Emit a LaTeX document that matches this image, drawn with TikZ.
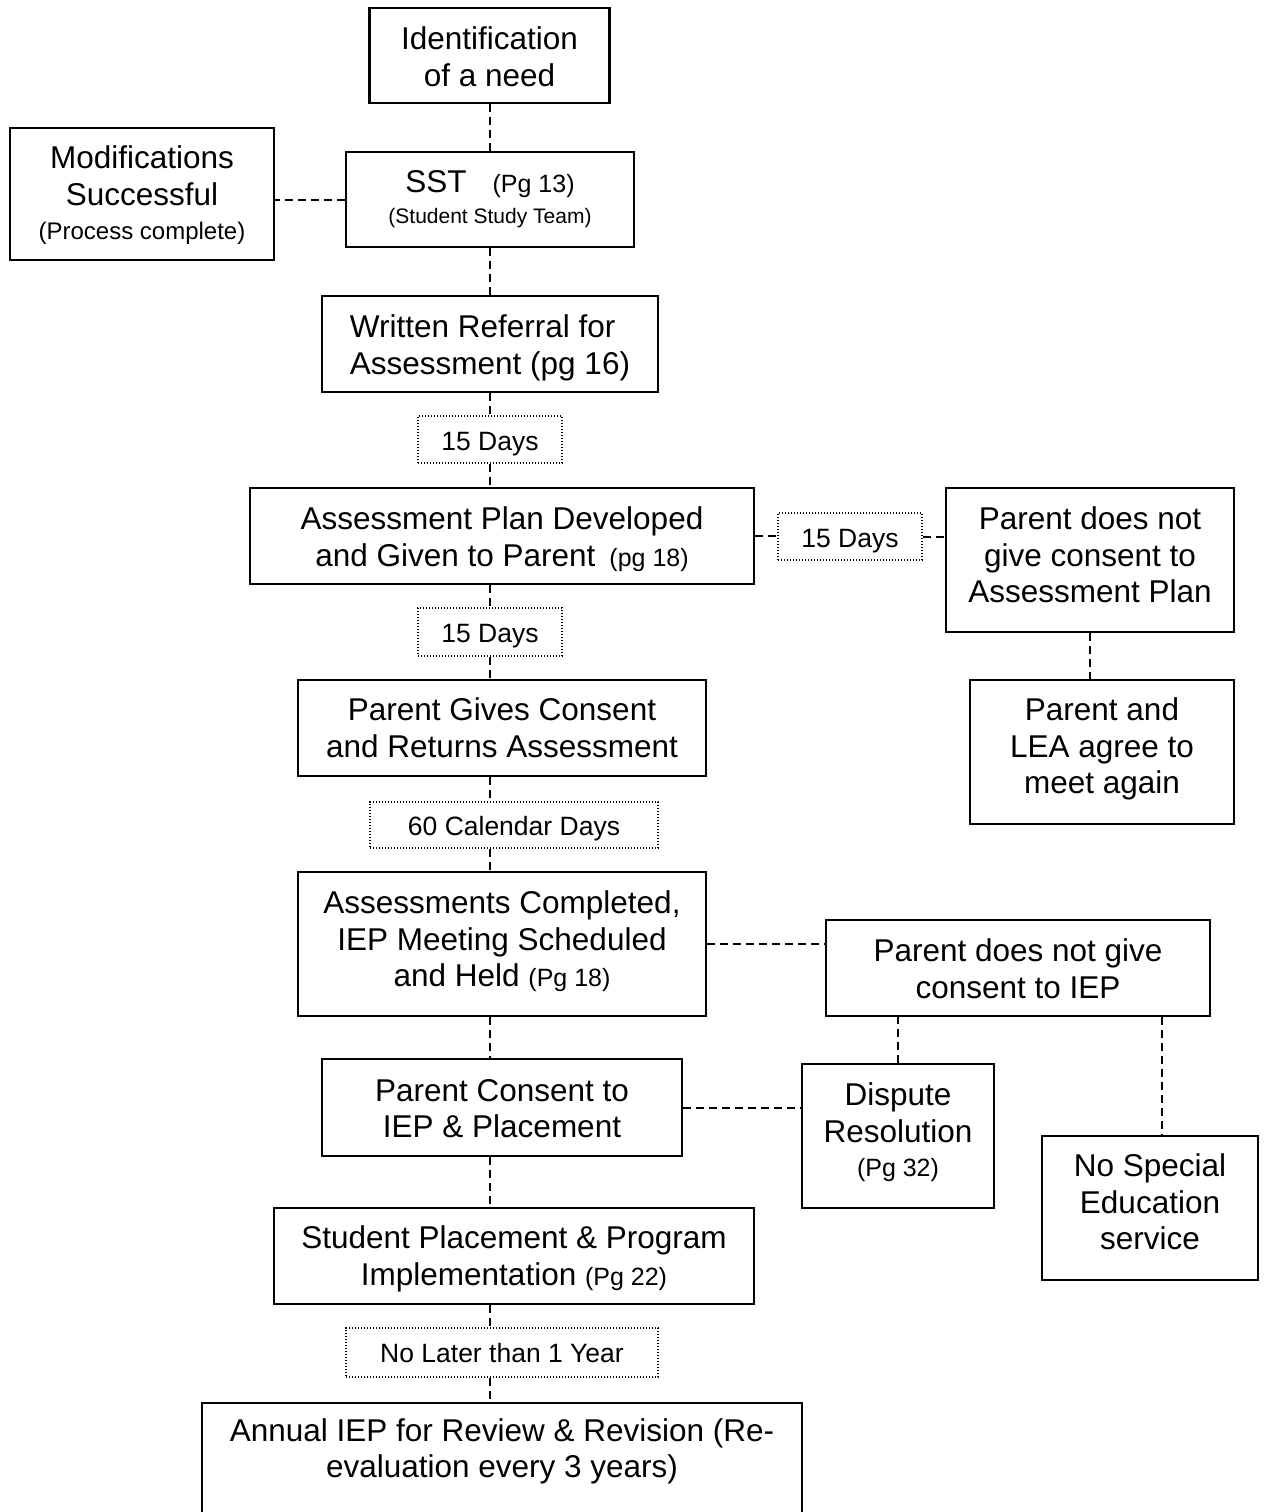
\documentclass[tikz,border=0pt]{standalone}
\usepackage{fontspec}
\setmainfont{Liberation Sans}
\usetikzlibrary{calc}
\newcommand\fbig{\fontsize{31.5}{36.5}\selectfont}
\newcommand\fpg{\fontsize{25}{30}\selectfont}
\newcommand\fsst{\fontsize{21}{25}\selectfont}
\newcommand\fproc{\fontsize{24}{28}\selectfont}
\newcommand\ftime{\fontsize{26.5}{30}\selectfont}
\tikzset{
  stepbox/.style={draw, line width=2.2pt, rectangle, inner sep=0pt},
  timebox/.style={draw, line width=1.2pt, dash pattern=on 1.3pt off 1.7pt, rectangle, inner sep=0pt},
  steptxt/.style={anchor=north, inner sep=0pt, align=center, font=\fbig},
  timetxt/.style={anchor=north, inner sep=0pt, align=center, font=\ftime},
  conn/.style={line width=2pt, dash pattern=on 8pt off 5pt},
}
\begin{document}
\begin{tikzpicture}[x=1pt,y=-1pt]
\useasboundingbox (0,0) rectangle (1264,1512);
\clip (0,0) rectangle (1264,1512);
\coordinate (spine) at (490,0);
\coordinate (rsp) at (1162,0);
% boxes
\node[stepbox, minimum width=240, minimum height=95] (ident) at (489.5,55.5) {};
\node[stepbox, minimum width=264, minimum height=132] (mod) at (142,194) {};
\node[stepbox, minimum width=288, minimum height=95] (sst) at (490,199.5) {};
\node[stepbox, minimum width=336, minimum height=96] (ref) at (490,344) {};
\node[timebox, minimum width=144, minimum height=47] (d1) at (490,439.5) {};
\node[stepbox, minimum width=504, minimum height=96] (plan) at (502,536) {};
\node[timebox, minimum width=144, minimum height=47] (d2) at (850,536.5) {};
\node[stepbox, minimum width=288, minimum height=144] (noplan) at (1090,560) {};
\node[timebox, minimum width=144, minimum height=48] (d3) at (490,632) {};
\node[stepbox, minimum width=408, minimum height=96] (gives) at (502,728) {};
\node[stepbox, minimum width=264, minimum height=144] (lea) at (1102,752) {};
\node[timebox, minimum width=288, minimum height=46] (d4) at (514,825) {};
\node[stepbox, minimum width=408, minimum height=144] (compl) at (502,944) {};
\node[stepbox, minimum width=384, minimum height=96] (noiep) at (1018,968) {};
\node[stepbox, minimum width=360, minimum height=97] (consent) at (502,1107.5) {};
\node[stepbox, minimum width=192, minimum height=144] (dispute) at (898,1136) {};
\node[stepbox, minimum width=216, minimum height=144] (nospec) at (1150,1208) {};
\node[stepbox, minimum width=480, minimum height=96] (place) at (514,1256) {};
\node[timebox, minimum width=312, minimum height=49] (d5) at (502,1352.5) {};
\node[stepbox, minimum width=600, minimum height=160, anchor=north] (annual) at (502,1402) {};
% texts
\node[steptxt] (ident-t) at ($(ident.north)+(0,20)$) {Identification\\of a need};
\node[steptxt] (mod-t) at ($(mod.north)+(0,19)$) {Modifications\\Successful\\[-2pt]{\fproc (Process complete)}};
\node[steptxt] (sst-t) at ($(sst.north)+(0,19)$) {SST\hspace{26pt}{\fpg (Pg 13)}\\[-5pt]{\fsst (Student Study Team)}};
\node[steptxt, align=left] (ref-t) at ($(ref.north)+(0,20)$) {Written Referral for\\Assessment (pg 16)};
\node[timetxt] (d1-t) at ($(d1.north)+(0,17)$) {15 Days};
\node[steptxt] (plan-t) at ($(plan.north)+(0,20)$) {Assessment Plan Developed\\and Given to Parent\hspace{14pt}{\fpg (pg 18)}};
\node[timetxt] (d2-t) at ($(d2.north)+(0,17)$) {15 Days};
\node[steptxt] (noplan-t) at ($(noplan.north)+(0,20)$) {Parent does not\\give consent to\\Assessment Plan};
\node[timetxt] (d3-t) at ($(d3.north)+(0,17)$) {15 Days};
\node[steptxt] (gives-t) at ($(gives.north)+(0,19)$) {Parent Gives Consent\\and Returns Assessment};
\node[steptxt] (lea-t) at ($(lea.north)+(0,19)$) {Parent and\\LEA agree to\\meet again};
\node[timetxt] (d4-t) at ($(d4.north)+(0,15)$) {60 Calendar Days};
\node[steptxt] (compl-t) at ($(compl.north)+(0,20)$) {Assessments Completed,\\IEP Meeting Scheduled\\and Held {\fpg (Pg 18)}};
\node[steptxt] (noiep-t) at ($(noiep.north)+(0,20)$) {Parent does not give\\consent to IEP};
\node[steptxt] (consent-t) at ($(consent.north)+(0,21)$) {Parent Consent to\\IEP \& Placement};
\node[steptxt] (dispute-t) at ($(dispute.north)+(0,20)$) {Dispute\\Resolution\\[-2pt]{\fpg (Pg 32)}};
\node[steptxt] (nospec-t) at ($(nospec.north)+(0,19)$) {No Special\\Education\\service};
\node[steptxt] (place-t) at ($(place.north)+(0,19)$) {Student Placement \& Program\\Implementation {\fpg (Pg 22)}};
\node[timetxt] (d5-t) at ($(d5.north)+(0,16)$) {No Later than 1 Year};
\node[steptxt] (annual-t) at ($(annual.north)+(0,16)$) {Annual IEP for Review \& Revision (Re-\\evaluation every 3 years)};
% connectors
\draw[conn] (ident.south) -- (ident.south |- sst.north);
\draw[conn] (sst.west) -- (sst.west -| mod.east);
\draw[conn] (sst.south) -- (sst.south |- ref.north);
\draw[conn] (ref.south) -- (ref.south |- d1.north);
\draw[conn] (d1.south) -- (d1.south |- plan.north);
\draw[conn] (plan.east) -- (plan.east -| d2.west);
\draw[conn] (d2.east) -- (d2.east -| noplan.west);
\draw[conn] (plan.south -| spine) -- (d3.north -| spine);
\draw[conn] (d3.south -| spine) -- (gives.north -| spine);
\draw[conn] (noplan.south) -- (noplan.south |- lea.north);
\draw[conn] (gives.south -| spine) -- (d4.north -| spine);
\draw[conn] (d4.south -| spine) -- (compl.north -| spine);
\draw[conn] (compl.east) -- (compl.east -| noiep.west);
\draw[conn] (compl.south -| spine) -- (consent.north -| spine);
\draw[conn] (dispute.north) -- (dispute.north |- noiep.south);
\draw[conn] (noiep.south -| rsp) -- (nospec.north -| rsp);
\draw[conn] (consent.east) -- (consent.east -| dispute.west);
\draw[conn] (consent.south -| spine) -- (place.north -| spine);
\draw[conn] (place.south -| spine) -- (d5.north -| spine);
\draw[conn] (d5.south -| spine) -- (annual.north -| spine);
\end{tikzpicture}
\end{document}
